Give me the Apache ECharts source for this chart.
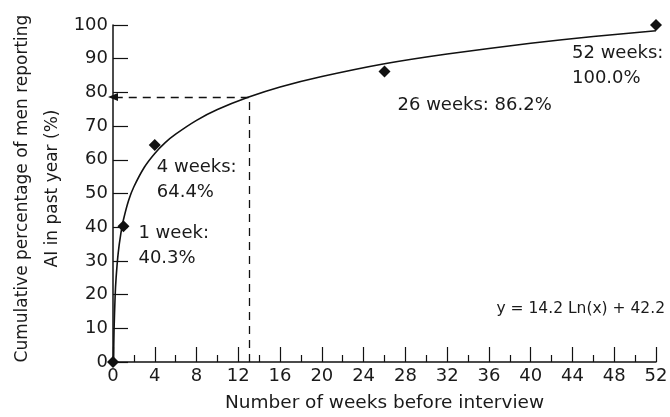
<!DOCTYPE html>
<html><head><meta charset="utf-8">
<script src="https://cdn.jsdelivr.net/npm/echarts@6/dist/echarts.min.js"></script>
<style>html,body{margin:0;padding:0;background:#fff}#c{width:670px;height:417px}</style>
</head><body><div id="c"></div>
<script>
// Observed data points
const weeks = [0, 1, 4, 26, 52];
const cumulativePct = [0, 40.3, 64.4, 86.2, 100.0];
const pointLabels = ['', '1 week:\n40.3%', '4 weeks:\n64.4%', '26 weeks: 86.2%', '52 weeks:\n100.0%'];
// Fitted curve
const curveX = [0.05, 0.1, 0.2, 0.3, 0.5, 0.75, 1, 1.5, 2, 3, 4, 5, 6, 8, 10, 13, 16, 20, 26, 32, 40, 46, 52];
const curveY = [0, 9.5, 19.3, 25.1, 32.4, 38.1, 42.2, 48.0, 52.0, 57.8, 61.9, 65.1, 67.6, 71.7, 74.9, 78.6, 81.6, 84.7, 88.5, 91.4, 94.6, 96.6, 98.3];
// Reference (dashed) line
const refWeek = 13;
const refPct = 78.6;
const equation = 'y = 14.2 Ln(x) + 42.2';
const xAxisName = 'Number of weeks before interview';
const yAxisName = 'Cumulative percentage of men reporting\nAI in past year (%)';

const FONT = 'DejaVu Sans';
const TXT = '#1a1a1a';
const labelOffsets = [null, [21, 1], [8, 16], [19, 27], [-78, 22]];

const chart = echarts.init(document.getElementById('c'), null, {renderer: 'canvas'});
chart.setOption({
  animation: false,
  backgroundColor: '#fff',
  textStyle: {fontFamily: FONT},
  grid: {left: 113, right: 14, top: 25, bottom: 55, containLabel: false, outerBoundsMode: 'none'},
  xAxis: {
    type: 'value', min: 0, max: 52, interval: 4,
    name: xAxisName, nameLocation: 'middle', nameGap: 32,
    nameTextStyle: {fontSize: 18.5, color: TXT, fontFamily: FONT},
    axisLine: {lineStyle: {color: '#111', width: 1.5}},
    axisTick: {inside: true, length: 15, lineStyle: {color: '#111', width: 1.2}},
    minorTick: {show: true, splitNumber: 2, length: 7, lineStyle: {color: '#111', width: 1.2}},
    axisLabel: {fontSize: 18, color: TXT, margin: 5, fontFamily: FONT},
    splitLine: {show: false}
  },
  yAxis: {
    type: 'value', min: 0, max: 100, interval: 10,
    name: yAxisName, nameLocation: 'middle', nameGap: 45, nameRotate: 90, nameMoveOverlap: false,
    nameTextStyle: {fontSize: 17, color: TXT, lineHeight: 30, fontFamily: FONT, padding: [0, 0, 0, 10]},
    axisLine: {show: true, lineStyle: {color: '#111', width: 1.5}},
    axisTick: {show: true, inside: true, length: 15, lineStyle: {color: '#111', width: 1.2}},
    axisLabel: {fontSize: 18, color: TXT, margin: 5, fontFamily: FONT},
    splitLine: {show: false}
  },
  graphic: [{
    type: 'text', right: 5, top: 301,
    style: {text: equation, fontSize: 15.5, fill: TXT, fontFamily: FONT}
  }],
  series: [
    {
      type: 'line', data: curveX.map((x, i) => [x, curveY[i]]),
      showSymbol: false, smooth: 0.2,
      lineStyle: {color: '#111', width: 1.6},
      z: 2,
      markLine: {
        silent: true, symbol: ['none', 'none'],
        lineStyle: {color: '#111', width: 1.3, type: [8, 6]},
        label: {show: false},
        data: [
          [{coord: [refWeek, 0], symbol: 'none'}, {coord: [refWeek, refPct], symbol: 'none'}],
          [{coord: [refWeek, refPct], symbol: 'none'}, {coord: [0, refPct], symbol: 'triangle', symbolSize: [8, 10], symbolRotate: 90}]
        ]
      }
    },
    {
      type: 'scatter', symbol: 'diamond', symbolSize: 12,
      itemStyle: {color: '#111', opacity: 1}, z: 3,
      data: weeks.map((w, i) => ({
        value: [w, cumulativePct[i]],
        label: labelOffsets[i] ? {
          show: true, formatter: pointLabels[i], position: labelOffsets[i],
          align: 'left', verticalAlign: 'top', fontSize: 18, lineHeight: 25,
          color: TXT, fontFamily: FONT
        } : {show: false}
      }))
    }
  ]
});
</script></body></html>
